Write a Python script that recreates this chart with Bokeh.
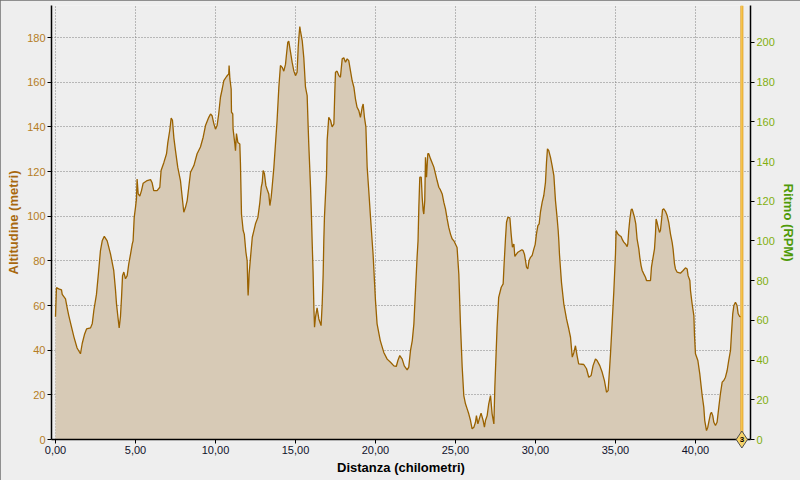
from bokeh.plotting import figure
from bokeh.models import Range1d, LinearAxis, Span, FixedTicker, CustomJSTickFormatter
from bokeh.core.properties import value
from bokeh.embed import file_html
from bokeh.resources import INLINE

# ---- data ----
distance_km = [
    0.00, 0.06, 0.20, 0.375, 0.42, 0.625, 0.73, 0.83, 0.98, 1.15, 1.35, 1.56, 1.67, 1.81, 1.94, 2.19,
    2.30, 2.40, 2.56, 2.70, 2.81, 2.92, 3.05, 3.23, 3.44, 3.64, 3.75, 3.81, 3.90, 3.98, 4.06, 4.13,
    4.19, 4.27, 4.375, 4.48, 4.58, 4.69, 4.80, 4.85, 4.92, 5.00, 5.06, 5.10, 5.17, 5.27, 5.375, 5.48,
    5.73, 5.94, 6.04, 6.14, 6.35, 6.52, 6.60, 6.77, 6.94, 7.02, 7.14, 7.23, 7.31, 7.40, 7.50, 7.64,
    7.81, 7.92, 8.02, 8.125, 8.23, 8.33, 8.44, 8.65, 8.85, 9.06, 9.23, 9.375, 9.58, 9.69, 9.79, 9.90,
    10.00, 10.10, 10.20, 10.31, 10.42, 10.52, 10.69, 10.83, 10.85, 10.90, 10.98, 11.00, 11.08, 11.10,
    11.21, 11.25, 11.31, 11.40, 11.52, 11.56, 11.625, 11.73, 11.80, 11.90, 11.98, 12.02, 12.04, 12.08,
    12.10, 12.19, 12.30, 12.40, 12.50, 12.65, 12.77, 12.86, 12.92, 12.98, 13.06, 13.15, 13.23, 13.33,
    13.40, 13.48, 13.54, 13.65, 13.75, 13.85, 13.96, 14.06, 14.17, 14.27, 14.375, 14.44, 14.52, 14.58,
    14.69, 14.79, 14.90, 15.00, 15.10, 15.17, 15.23, 15.27, 15.31, 15.42, 15.52, 15.625, 15.73, 15.79,
    15.83, 15.94, 16.00, 16.04, 16.10, 16.15, 16.19, 16.25, 16.35, 16.46, 16.60, 16.67, 16.73, 16.77,
    16.81, 16.94, 16.98, 17.08, 17.19, 17.29, 17.40, 17.46, 17.50, 17.60, 17.71, 17.81, 17.92, 18.02,
    18.125, 18.23, 18.33, 18.44, 18.54, 18.65, 18.75, 18.85, 18.96, 19.06, 19.17, 19.23, 19.31, 19.40,
    19.48, 19.58, 19.69, 19.79, 19.85, 20.00, 20.10, 20.30, 20.52, 20.73, 20.94, 21.15, 21.30, 21.40,
    21.52, 21.67, 21.80, 21.98, 22.08, 22.19, 22.30, 22.40, 22.50, 22.60, 22.66, 22.71, 22.77, 22.86,
    22.92, 22.98, 23.02, 23.08, 23.125, 23.19, 23.27, 23.33, 23.44, 23.54, 23.65, 23.75, 23.85, 23.96,
    24.06, 24.17, 24.27, 24.375, 24.48, 24.58, 24.69, 24.79, 24.90, 25.10, 25.21, 25.31, 25.42, 25.52,
    25.625, 25.73, 25.83, 25.94, 26.04, 26.15, 26.25, 26.31, 26.40, 26.52, 26.60, 26.73, 26.81, 26.875,
    26.98, 27.08, 27.19, 27.29, 27.40, 27.46, 27.52, 27.60, 27.70, 27.86, 27.98, 28.04, 28.125, 28.19,
    28.27, 28.40, 28.48, 28.56, 28.65, 28.71, 28.81, 28.90, 29.15, 29.23, 29.31, 29.375, 29.44, 29.52,
    29.60, 29.69, 29.79, 29.90, 29.98, 30.06, 30.15, 30.23, 30.31, 30.42, 30.52, 30.625, 30.69, 30.75,
    30.83, 30.94, 31.04, 31.15, 31.25, 31.35, 31.42, 31.46, 31.50, 31.625, 31.77, 31.94, 32.08, 32.19,
    32.30, 32.40, 32.50, 32.60, 32.70, 33.02, 33.19, 33.33, 33.48, 33.60, 33.75, 33.85, 34.02, 34.17,
    34.31, 34.44, 34.54, 34.625, 34.69, 34.79, 34.90, 35.00, 35.04, 35.10, 35.15, 35.25, 35.35, 35.44,
    35.52, 35.625, 35.73, 35.77, 35.83, 35.90, 35.98, 36.04, 36.10, 36.19, 36.27, 36.35, 36.46, 36.52,
    36.60, 36.67, 36.77, 36.875, 36.94, 37.19, 37.25, 37.35, 37.44, 37.50, 37.54, 37.60, 37.67, 37.75,
    37.81, 37.875, 37.94, 38.02, 38.125, 38.23, 38.33, 38.44, 38.54, 38.60, 38.69, 38.75, 38.85, 39.06,
    39.23, 39.375, 39.48, 39.54, 39.65, 39.69, 39.79, 39.90, 39.94, 40.00, 40.15, 40.27, 40.35, 40.42,
    40.52, 40.58, 40.69, 40.77, 40.85, 40.94, 41.00, 41.08, 41.15, 41.25, 41.35, 41.46, 41.56, 41.67,
    41.77, 41.875, 41.98, 42.08, 42.19, 42.25, 42.33, 42.40, 42.50, 42.60, 42.67, 42.77, 42.86,
]
altitude_m = [
    55, 68, 67.5, 67, 65, 63, 59, 55.5, 51, 46, 41, 38.4, 43, 47, 49.5, 50,
    52, 58, 65, 75.7, 84.6, 89, 91, 89, 83, 75.7, 67, 61, 55, 50, 55, 64,
    73.4, 75, 72, 73.4, 78.7, 83, 87.6, 89, 99.5, 104, 107.8, 116.7, 110, 109, 111.5, 114.8,
    116, 116.4, 115, 111.5, 111.5, 113, 120.5, 124, 128, 133, 138.4, 144, 143, 135, 129.4, 122,
    116, 108.5, 101.8, 104, 107, 113, 119.7, 122.7, 128, 131, 135.4, 140.6, 144.3, 145.8, 145, 141.4,
    139, 140.6, 145.8, 153.3, 157, 160.8, 162.6, 163.8, 167.5, 161.5, 157, 146.6, 145.8, 139,
    132.4, 129.4, 137, 133, 132.4, 123.5, 101, 93.6, 92, 84, 80, 68, 64.5, 70,
    74, 81.6, 90.6, 93.6, 96.6, 99.5, 106, 113, 115, 120.5, 119, 113.7, 112, 110,
    104.8, 108.5, 113, 122, 132.4, 143, 157.8, 167.5, 166.7, 165, 168, 172.7, 178, 178.4,
    173.5, 169, 165, 163, 164.5, 175.7, 181.7, 185, 183, 178.7, 171, 157.8, 154, 140.6,
    132.4, 113, 99.5, 89, 75, 59, 50.3, 54.8, 59, 54, 51, 60.8, 74, 89,
    99.5, 119, 134, 144.3, 143, 140, 141.4, 156.3, 164.5, 165, 163, 162.3, 170.5, 171,
    169, 170.5, 169.7, 165, 160.8, 157.8, 152.5, 148.8, 147.3, 144.3, 148.8, 150.3, 144.3, 140,
    122, 111.5, 99.5, 89, 83, 62.2, 51.8, 44.3, 39, 36, 34.6, 33, 32.7, 35.4,
    37.6, 36, 33, 31.2, 32.4, 39.9, 44.3, 51.8, 66.7, 81.6, 89, 104, 117.5, 117.5,
    108.5, 102.5, 101, 107, 126.4, 117.5, 128, 128, 125.7, 124, 122, 119, 116, 113,
    111.8, 110, 106.3, 103.3, 98.8, 95, 92, 89.9, 89, 86, 74, 51.8, 32.4, 19.7,
    16, 13.7, 11.5, 8.5, 4.8, 5.5, 7.7, 10.7, 7, 10, 11.8, 8.5, 5.5, 8.5,
    10.7, 16, 19.7, 11.5, 7, 23.4, 35, 50.3, 63.7, 68.2, 69.7, 78.7, 89.9, 97.3,
    99.5, 99.3, 92, 86.1, 87.6, 82, 83, 83.9, 85, 84.6, 83, 80.2, 77.2, 76.4,
    80.2, 81.6, 82.4, 85.4, 87.3, 92, 95.8, 96.6, 101.8, 106.3, 109.3, 115.2, 124.2, 130.2,
    129.4, 126.4, 122.7, 118.2, 107, 99.5, 93.6, 89, 83, 70.4, 60.8, 54, 49.6, 45.8,
    36.9, 39, 42, 37.6, 33.9, 33.6, 31.7, 27.9, 28.7, 33.1, 36.1, 35.4, 33.1, 30.1,
    26.4, 21.2, 21.9, 30.9, 38.4, 51.8, 66.7, 83, 93.6, 92.8, 92, 91.4, 90.9, 89.4,
    88.4, 87.6, 86.4, 87.6, 93.6, 98.8, 102.9, 103.3, 101.8, 99.5, 96.6, 89.9, 85.4, 81.6,
    77.9, 75.7, 74.2, 72.7, 71.2, 71.2, 77.2, 81.6, 85.4, 92, 98.8, 97.3, 95, 92.8,
    93.6, 98, 102.9, 103.3, 102.2, 100.3, 97.3, 92, 88.4, 85.4, 78.7, 76.4, 75, 74.5,
    75.7, 76.9, 76.4, 73.4, 71.2, 66.7, 60.8, 55.5, 46.6, 38.4, 35.4, 29.4, 24.2, 19.7,
    14.5, 8.5, 4, 5.5, 8.5, 11.5, 12.2, 10.7, 7.7, 6.3, 7.7, 14.5, 20.5, 25.7,
    26.4, 27.9, 30.9, 35.4, 39.9, 47.3, 56.3, 60, 61.5, 60, 56.3, 55, 55,
]
x_ticks = [0, 5, 10, 15, 20, 25, 30, 35, 40]
alt_ticks = [0, 20, 40, 60, 80, 100, 120, 140, 160, 180]
rpm_ticks = [0, 20, 40, 60, 80, 100, 120, 140, 160, 180, 200]
lap_km = [42.9]
lap_label = ["3"]

BG = "#EEEEEE"
FONT = "Liberation Sans"

p = figure(
    width=800, height=480, output_backend="svg", toolbar_location=None,
    x_range=Range1d(-0.25, 43.44), y_range=Range1d(0, 194.4),
    background_fill_color=BG, border_fill_color=BG,
    min_border_left=51, min_border_right=50, min_border_top=5, min_border_bottom=41,
    outline_line_color=None,
)
p.styles = {"outline": "2px solid #6F6F6F", "outline-offset": "-2px"}
p.extra_y_ranges = {"rpm": Range1d(0, 218.6)}

# grid
for g in (p.xgrid, p.ygrid):
    g.grid_line_color = "#808080"
    g.grid_line_dash = "1 2"
    g.grid_line_width = 1
p.xgrid.ticker = FixedTicker(ticks=x_ticks)
p.ygrid.ticker = FixedTicker(ticks=alt_ticks)

# profile
p.varea(x=distance_km, y1=[0] * len(distance_km), y2=altitude_m, fill_color="#D7CAB6")
p.line(x=distance_km, y=altitude_m, line_color="#9A6200", line_width=1.3)

# lap marker
p.add_layout(Span(location=lap_km[0], dimension="height", line_color="#E3A22A", line_width=3))
p.add_layout(Span(location=lap_km[0], dimension="height", line_color="#FFD860", line_width=1))
p.scatter(x=lap_km, y=[0], marker="diamond", size=17, fill_color="#F6D36A",
          line_color="#505050", line_width=1, level="overlay")
p.text(x=lap_km, y=[0], text=lap_label, text_align="center", text_baseline="middle",
       text_font=value(FONT), text_font_size="8px", text_font_style="bold",
       text_color="#000000", level="overlay")

# axes
fmt = CustomJSTickFormatter(code="return tick.toFixed(2).replace('.', ',');")
xa = p.xaxis[0]
xa.ticker = FixedTicker(ticks=x_ticks)
xa.formatter = fmt
xa.axis_label = "Distanza (chilometri)"
xa.axis_label_text_color = "#000000"
xa.major_label_text_color = "#10102A"

ya = p.yaxis[0]
ya.ticker = FixedTicker(ticks=alt_ticks)
ya.axis_label = "Altitudine (metri)"
ya.axis_label_text_color = "#A8680F"
ya.major_label_text_color = "#B57D25"

ra = LinearAxis(y_range_name="rpm", ticker=FixedTicker(ticks=rpm_ticks))
ra.axis_label = "Ritmo (RPM)"
ra.axis_label_text_color = "#4F9A08"
ra.major_label_text_color = "#82AE10"
p.add_layout(ra, "right")

for ax in (xa, ya, ra):
    ax.axis_line_color = "#000000"
    ax.axis_line_width = 1.5
    ax.major_tick_line_color = "#000000"
    ax.major_tick_out = 4
    ax.major_tick_in = 0
    ax.minor_tick_line_color = None
    ax.major_label_text_font = FONT
    ax.major_label_text_font_size = "11px"
    ax.major_label_standoff = 2
    ax.axis_label_text_font = FONT
    ax.axis_label_text_font_size = "13px"
    ax.axis_label_text_font_style = "bold"
    ax.axis_label_standoff = 3

open("out.html", "w").write(file_html(p, INLINE))
